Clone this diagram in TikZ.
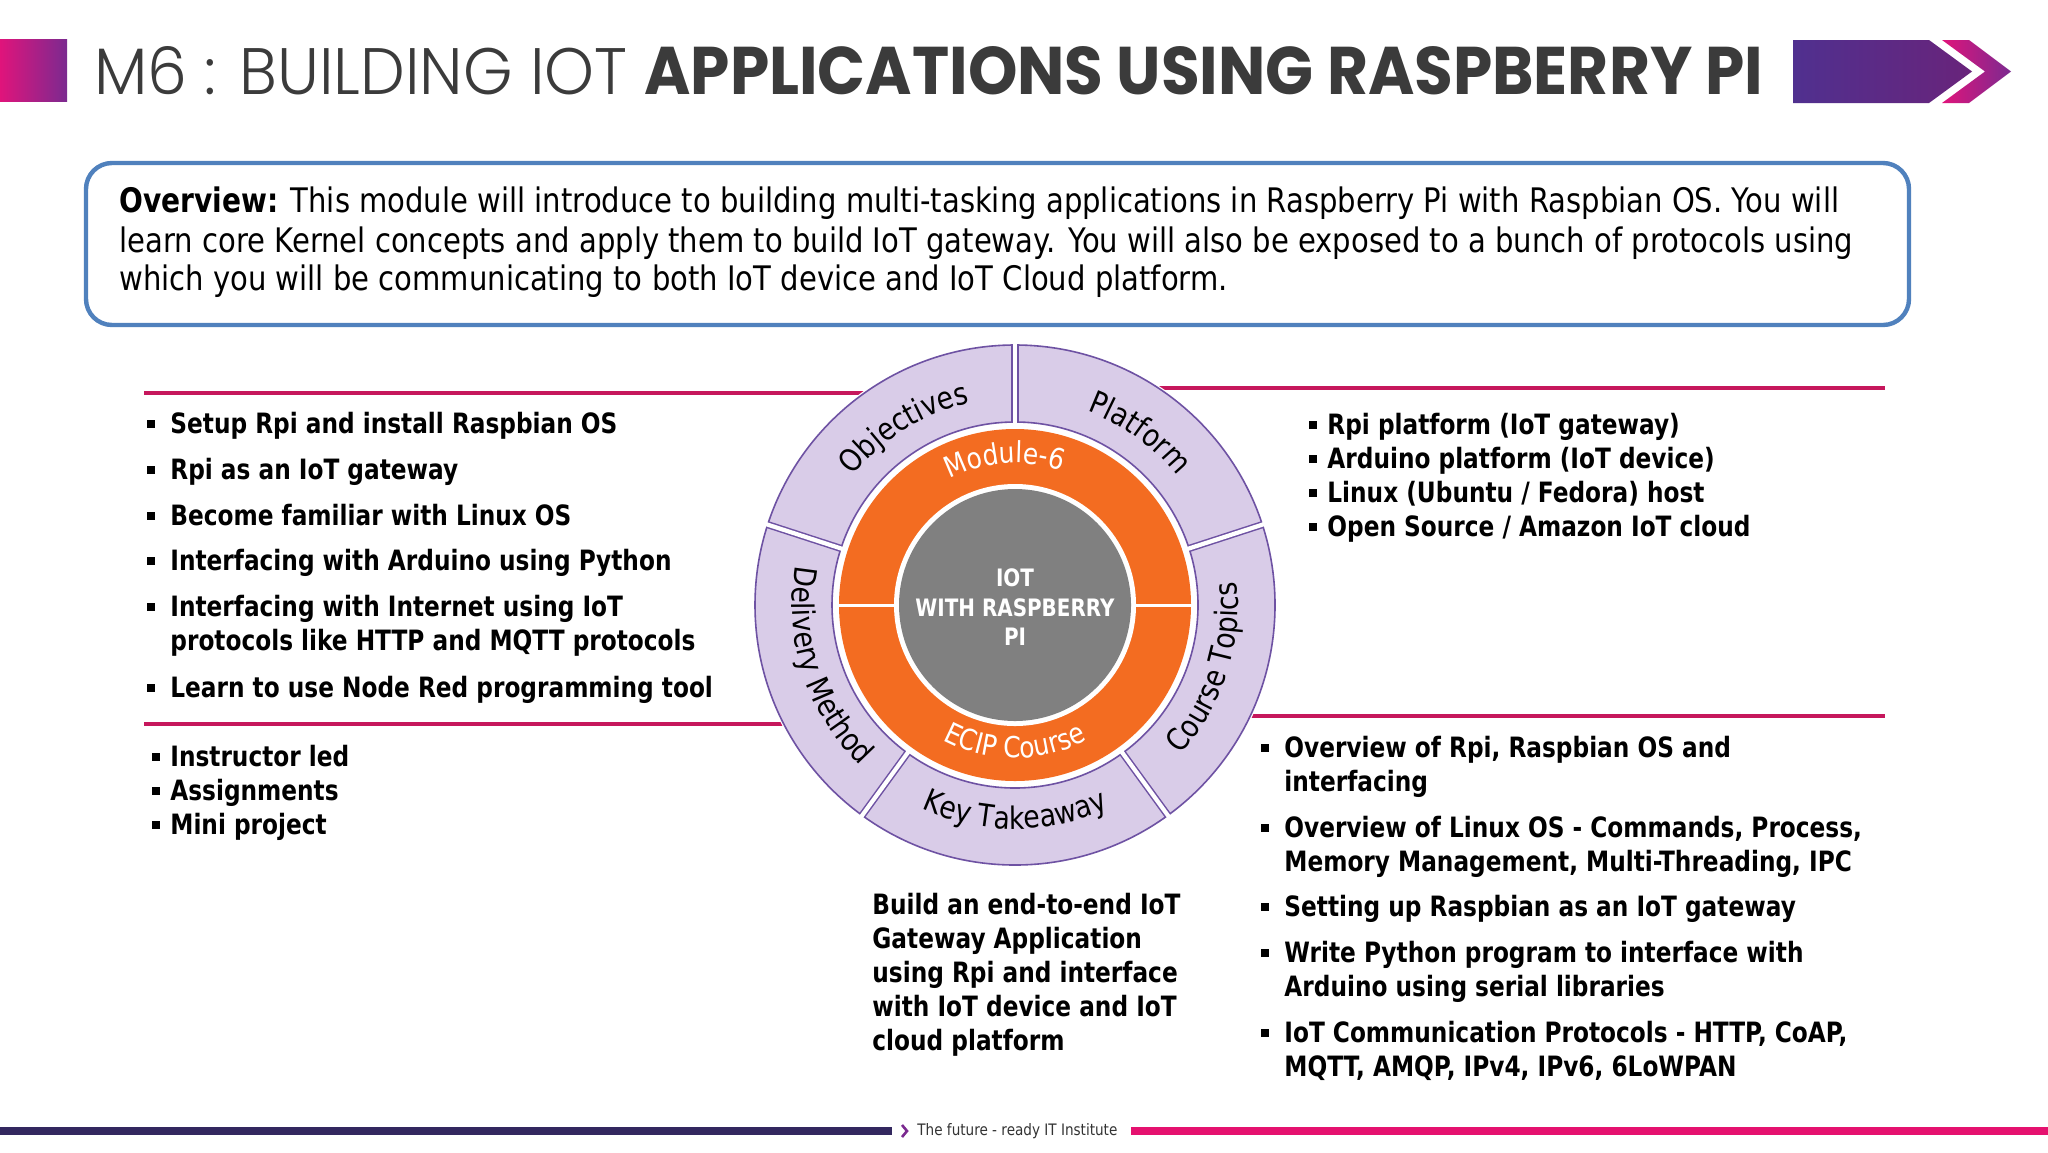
\documentclass[tikz,border=0pt]{standalone}
\usepackage{fontspec}
\usetikzlibrary{decorations.text}
\newfontfamily\regf{DejaVu Sans}[FakeStretch=0.86]
\newfontfamily\boldf{DejaVu Sans}[FakeStretch=0.83]
\newfontfamily\titlel{Poppins Light}
\newfontfamily\titleb{Poppins}
\definecolor{titlegray}{HTML}{3B3B3B}
\definecolor{ovblue}{HTML}{5081BD}
\definecolor{redline}{HTML}{C6175C}
\definecolor{lav}{HTML}{D9CCE8}
\definecolor{purp}{HTML}{6E52A3}
\definecolor{orng}{HTML}{F36C21}
\definecolor{grayc}{HTML}{808080}
\definecolor{navyf}{HTML}{33285F}
\definecolor{pinkf}{HTML}{E5116F}
\definecolor{pinkt}{HTML}{E0147B}
\definecolor{violt}{HTML}{7B2A90}
\definecolor{violdark}{HTML}{50308F}
\begin{document}
\begin{tikzpicture}[x=0.5pt,y=-0.5pt,
  btxt/.style={anchor=base west, inner sep=0pt, font=\boldf\bfseries\fontsize{14pt}{17pt}\selectfont, text=black},
  ovtxt/.style={anchor=base west, inner sep=0pt, font=\regf\fontsize{16.9pt}{20pt}\selectfont, text=black},
  bul/.style={rectangle, fill=black, inner sep=0pt, minimum size=3.8pt},
  redl/.style={draw=redline, line width=2pt},
  ctr/.style={anchor=base, inner sep=0pt, text=white, font=\boldf\bfseries\fontsize{12pt}{14pt}\selectfont},
  seglab/.style={decorate, decoration={text along path, text align=center, text color=black,
     text={|\regf\fontsize{15.5pt}{18pt}\selectfont|#1}}},
  orlab/.style={decorate, decoration={text along path, text align=center, text color=white,
     text={|\regf\fontsize{14.5pt}{17pt}\selectfont|#1}}}
]
\useasboundingbox (0,0) rectangle (2048,1152);
\fill[white] (0,0) rectangle (2048,1152);

% ---- title bar
\shade[left color=pinkt, right color=violt] (0,39) rectangle (67,101);
\node[anchor=base west, inner sep=0pt, text=titlegray] (tl) at (94,94)
  {\resizebox{266.5pt}{24pt}{\titlel M6 : BUILDING IOT}};
\node[anchor=base west, inner sep=0pt, text=titlegray] (tb) at (644,94)
  {\resizebox{559.5pt}{24pt}{\titleb\bfseries APPLICATIONS USING RASPBERRY PI}};
\shade[left color=violdark, right color=violt!85!black] (1793,40) -- (1929,40) -- (1972,71.5) -- (1929,103) -- (1793,103) -- cycle;
\shade[left color=pinkt, right color=violt] (1942,40) -- (1969,40) -- (2011,71.5) -- (1969,103) -- (1942,103) -- (1985,71.5) -- cycle;

% ---- overview box
\draw[ovblue, line width=2.2pt, rounded corners=13pt] (86,163) rectangle (1909,325);
\node[ovtxt] (ov1) at (119,212) {{\boldf\bfseries Overview:} This module will introduce to building multi-tasking applications in Raspberry Pi with Raspbian OS. You will};
\node[ovtxt] (ov2) at (119,252) {learn core Kernel concepts and apply them to build IoT gateway. You will also be exposed to a bunch of protocols using};
\node[ovtxt] (ov3) at (119,290) {which you will be communicating to both IoT device and IoT Cloud platform.};

% ---- red separator lines
\draw[redl] (144,393) -- (880,393);
\draw[redl] (144,724) -- (800,724);
\draw[redl] (1150,388) -- (1885,388);
\draw[redl] (1150,716) -- (1885,716);

% ---- wheel
\begin{scope}[shift={(1015,605)}, y=0.5pt]
  \fill[white] (0,0) circle[radius=262];
  \fill[lav] (0,0) circle[radius=260];
  \draw[purp, line width=0.8pt] (0,0) circle[radius=260];
  \fill[white] (0,0) circle[radius=183];
  \draw[purp, line width=0.8pt] (0,0) circle[radius=183];
  \foreach \a in {90,18,-54,-126,162} {
    \draw[purp, line width=3.6pt] (\a:183) -- (\a:260);
    \draw[white, line width=2.1pt] (\a:181) -- (\a:263);
  }
  \fill[orng] (0,0) circle[radius=176];
  \fill[white] (0,0) circle[radius=121];
  \fill[grayc] (0,0) circle[radius=116];
  \draw[white, line width=1.5pt] (0:120) -- (0:177);
  \draw[white, line width=1.5pt] (180:120) -- (180:177);
  % segment labels
  \path[seglab=Objectives] (162:207) arc[start angle=162, end angle=82, radius=207];
  \path[seglab=Platform] (94:207) arc[start angle=94, end angle=14, radius=207];
  \path[seglab=Course Topics] (-58:223) arc[start angle=-58, end angle=22, radius=223];
  \path[seglab=Key Takeaway] (230:224) arc[start angle=230, end angle=310, radius=224];
  \path[seglab=Delivery Method] (158:223) arc[start angle=158, end angle=238, radius=223];
  % orange ring labels
  \path[orlab=Module-6] (134:142) arc[start angle=134, end angle=54, radius=142];
  \path[orlab=ECIP Course] (230:153) arc[start angle=230, end angle=310, radius=153];
  % centre
  \node[ctr] (c1) at (0,19) {IOT};
  \node[ctr] (c2) at (0,-11) {WITH RASPBERRY};
  \node[ctr] (c3) at (0,-40) {PI};
\end{scope}

% ---- objectives list
\node[bul] (lb1) at (151,424) {};
\node[btxt] (l1) at (170,433) {Setup Rpi and install Raspbian OS};
\node[bul] (lb2) at (151,470) {};
\node[btxt] (l2) at (170,479) {Rpi as an IoT gateway};
\node[bul] (lb3) at (151,516) {};
\node[btxt] (l3) at (170,525) {Become familiar with Linux OS};
\node[bul] (lb4) at (151,561) {};
\node[btxt] (l4) at (170,570) {Interfacing with Arduino using Python};
\node[bul] (lb5) at (151,607) {};
\node[btxt] (l5) at (170,616) {Interfacing with Internet using IoT};
\node[btxt] (l5b) at (170,650) {protocols like HTTP and MQTT protocols};
\node[bul] (lb6) at (151,688) {};
\node[btxt] (l6) at (170,697) {Learn to use Node Red programming tool};

% ---- delivery list
\node[bul] (db1) at (156,757) {};
\node[btxt] (d1) at (170,766) {Instructor led};
\node[bul] (db2) at (156,791) {};
\node[btxt] (d2) at (170,800) {Assignments};
\node[bul] (db3) at (156,825) {};
\node[btxt] (d3) at (170,834) {Mini project};

% ---- platform list
\node[bul] (pb1) at (1313,425) {};
\node[btxt] (p1) at (1327,434) {Rpi platform (IoT gateway)};
\node[bul] (pb2) at (1313,459) {};
\node[btxt] (p2) at (1327,468) {Arduino platform (IoT device)};
\node[bul] (pb3) at (1313,493) {};
\node[btxt] (p3) at (1327,502) {Linux (Ubuntu / Fedora) host};
\node[bul] (pb4) at (1313,527) {};
\node[btxt] (p4) at (1327,536) {Open Source / Amazon IoT cloud};

% ---- course topics list
\node[bul] (tb1) at (1265,748) {};
\node[btxt] (t1) at (1284,757) {Overview of Rpi, Raspbian OS and};
\node[btxt] (t1b) at (1284,791) {interfacing};
\node[bul] (tb2) at (1265,828) {};
\node[btxt] (t2) at (1284,837) {Overview of Linux OS - Commands, Process,};
\node[btxt] (t2b) at (1284,871) {Memory Management, Multi-Threading, IPC};
\node[bul] (tb3) at (1265,907) {};
\node[btxt] (t3) at (1284,916) {Setting up Raspbian as an IoT gateway};
\node[bul] (tb4) at (1265,953) {};
\node[btxt] (t4) at (1284,962) {Write Python program to interface with};
\node[btxt] (t4b) at (1284,996) {Arduino using serial libraries};
\node[bul] (tb5) at (1265,1033) {};
\node[btxt] (t5) at (1284,1042) {IoT Communication Protocols - HTTP, CoAP,};
\node[btxt] (t5b) at (1284,1076) {MQTT, AMQP, IPv4, IPv6, 6LoWPAN};

% ---- key takeaway
\node[btxt] (k1) at (872,914) {Build an end-to-end IoT};
\node[btxt] (k2) at (872,948) {Gateway Application};
\node[btxt] (k3) at (872,982) {using Rpi and interface};
\node[btxt] (k4) at (872,1016) {with IoT device and IoT};
\node[btxt] (k5) at (872,1050) {cloud platform};

% ---- footer
\draw[navyf, line width=4pt] (0,1131) -- (892,1131);
\draw[pinkf, line width=4pt] (1131,1131) -- (2048,1131);
\draw[violt, line width=1.3pt] (902,1125) -- (907,1131) -- (902,1137);
\node[anchor=west, inner sep=0pt, text=black!80] (ft) at (917,1131)
  {\resizebox{100pt}{!}{\regf The future - ready IT Institute}};
\end{tikzpicture}
\end{document}
